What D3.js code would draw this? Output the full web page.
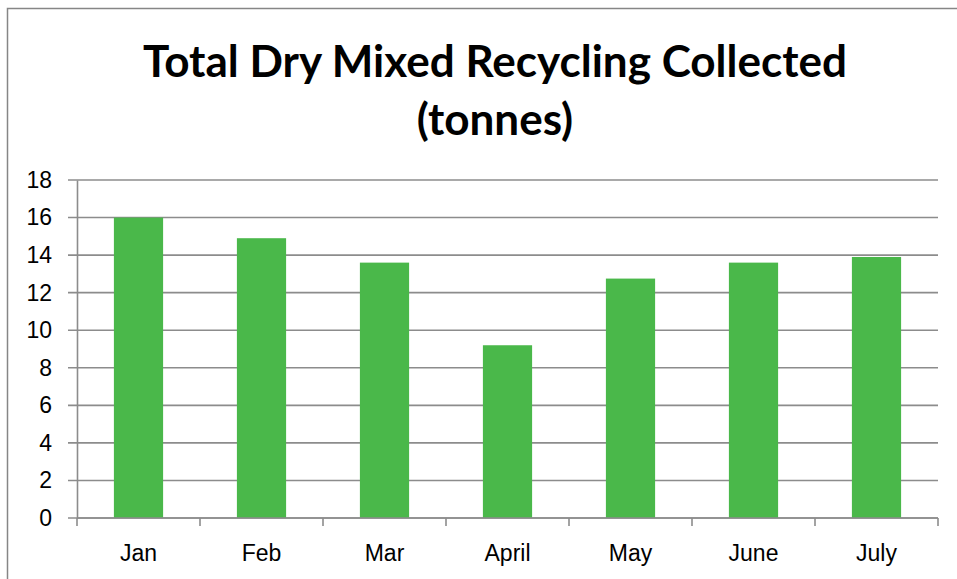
<!DOCTYPE html>
<html>
<head>
<meta charset="utf-8">
<script src="https://cdn.jsdelivr.net/npm/d3@7"></script>
<style>
  body { margin: 0; background: #fff; }
  svg { display: block; font-family: "Lato", "Open Sans", sans-serif; }
</style>
</head>
<body>
<div id="chart-area"></div>
<script>
// Datos
const months = ["Jan", "Feb", "Mar", "April", "May", "June", "July"];
const tonnes = [16, 14.9, 13.6, 9.2, 12.75, 13.6, 13.9];
const yTicks = [0, 2, 4, 6, 8, 10, 12, 14, 16, 18];
const titleLines = ["Total Dry Mixed Recycling Collected", "(tonnes)"];

const width = 957;
const height = 579;
const margin = { top: 180, right: 19, bottom: 61, left: 77 };
const innerW = width - margin.left - margin.right;
const innerH = height - margin.top - margin.bottom;

const svg = d3.select("#chart-area")
    .append("svg")
    .attr("width", width)
    .attr("height", height);

// Marco del gráfico
svg.append("rect")
    .attr("x", 7.5)
    .attr("y", 8.5)
    .attr("width", width + 20)
    .attr("height", height + 20)
    .attr("fill", "none")
    .attr("stroke", "#868686")
    .attr("stroke-width", 1.5);

// Título
const title = svg.append("g");
title.selectAll("text")
    .data(titleLines)
    .enter()
    .append("text")
    .attr("x", 495)
    .attr("y", (d, i) => 77 + i * 58)
    .attr("text-anchor", "middle")
    .attr("font-weight", "bold")
    .attr("font-size", "44px")
    .attr("fill", "#000")
    .text(d => d);
// ajustar tamaño para que la primera línea mida ~704px
const first = title.select("text").node();
const fs = 44 * 704 / first.getComputedTextLength();
title.selectAll("text").attr("font-size", fs + "px");

const g = svg.append("g")
    .attr("transform", `translate(${margin.left}, ${margin.top})`);

// Escalas
const x = d3.scaleBand()
    .domain(months)
    .range([0, innerW])
    .paddingInner(0.6)
    .paddingOuter(0.3);

const xEdge = d3.scaleBand()
    .domain(months)
    .range([0, innerW]);

const y = d3.scaleLinear()
    .domain([0, 18])
    .range([innerH, 0]);

// Líneas de cuadrícula
g.append("g")
    .attr("class", "grid")
    .selectAll("line")
    .data(yTicks)
    .enter()
    .append("line")
    .attr("x1", -9)
    .attr("x2", innerW)
    .attr("y1", d => y(d))
    .attr("y2", d => y(d))
    .attr("stroke", "#8c8c8c")
    .attr("stroke-width", 1.6);

// Eje Y
const leftAxis = d3.axisLeft(y).tickValues(yTicks).tickSize(0).tickPadding(25);
g.append("g")
    .attr("class", "left axis")
    .call(leftAxis)
    .call(a => a.select(".domain").attr("stroke", "#8c8c8c").attr("stroke-width", 1.6))
    .selectAll("text")
    .attr("font-size", "23px")
    .attr("fill", "#000");

// Rectángulos
g.selectAll("rect.bar")
    .data(months)
    .enter()
    .append("rect")
    .attr("class", "bar")
    .attr("x", d => x(d))
    .attr("y", (d, i) => y(tonnes[i]))
    .attr("width", x.bandwidth())
    .attr("height", (d, i) => innerH - y(tonnes[i]))
    .attr("fill", "#4ab84a");

// Eje X
const bottomAxis = d3.axisBottom(xEdge).tickSize(0).tickPadding(27);
const xg = g.append("g")
    .attr("class", "bottom axis")
    .attr("transform", `translate(0, ${innerH})`)
    .call(bottomAxis);
xg.select(".domain").remove();
xg.append("line")
    .attr("x1", 0).attr("x2", innerW)
    .attr("stroke", "#8c8c8c").attr("stroke-width", 1.6);
xg.selectAll(".edge")
    .data(months.concat([null]))
    .enter()
    .append("line")
    .attr("class", "edge")
    .attr("x1", (d, i) => i * xEdge.step())
    .attr("x2", (d, i) => i * xEdge.step())
    .attr("y1", 0).attr("y2", 8)
    .attr("stroke", "#8c8c8c").attr("stroke-width", 1.6);
xg.selectAll("text")
    .attr("font-size", "23px")
    .attr("fill", "#000");
</script>
</body>
</html>
